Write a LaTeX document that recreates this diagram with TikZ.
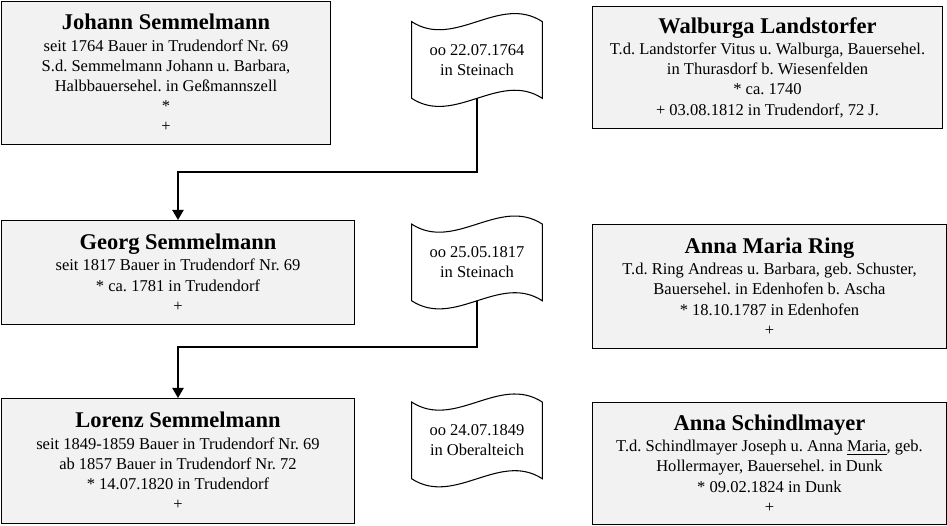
\documentclass[tikz,border=0pt]{standalone}
\usepackage{fontspec}
\setmainfont{Liberation Serif}
\usepackage{xcolor}
\definecolor{boxfill}{HTML}{F2F2F2}
\usepackage{tikz}
\usetikzlibrary{arrows.meta}
\usetikzlibrary{positioning}
\frenchspacing
\newcommand{\bodyfont}{\fontsize{9.4}{11.5}\selectfont}
\newcommand{\namefont}{\fontsize{12.8}{13}\selectfont\bfseries}
\tikzstyle{person} = [rectangle, draw, fill=boxfill, line width=0.6pt,
    align=center, font=\bodyfont, inner sep=0pt]
\tikzstyle{wedding} = [rectangle, draw=none, align=center, font=\bodyfont,
    minimum width=2.6cm, minimum height=1.52cm]
\tikzstyle{line} = [draw, line width=1.1pt, -{Triangle[width=6.4pt,length=5.8pt]}]
\newcommand{\tape}[1]{\draw[line width=0.6pt] (#1.north west) .. controls +(43,28) and +(-43,-28) .. (#1.north east)
    -- (#1.south east) .. controls +(-43,-28) and +(43,28) .. (#1.south west) -- cycle;}

\begin{document}
\begin{tikzpicture}[x=0.02cm,y=-0.02cm]
    \useasboundingbox (0,0) rectangle (947,526);
    % Place nodes
    \node [person, anchor=north west, minimum width=6.58cm, minimum height=2.86cm] (johann) at (1,1)
        {{\namefont Johann Semmelmann}\\[0.7pt] seit 1764 Bauer in Trudendorf Nr. 69\\ S.d. Semmelmann Johann u. Barbara,\\ Halbbauersehel. in Geßmannszell\\ *\\ +};
    \node [person, below=1.5cm of johann.south west, anchor=north west, minimum width=7.06cm, minimum height=2.08cm] (georg)
        {{\namefont Georg Semmelmann}\\[0.7pt] seit 1817 Bauer in Trudendorf Nr. 69\\ * ca. 1781 in Trudendorf\\ +};
    \node [person, below=1.46cm of georg.south west, anchor=north west, minimum width=7.06cm, minimum height=2.5cm] (lorenz)
        {{\namefont Lorenz Semmelmann}\\[0.7pt] seit 1849-1859 Bauer in Trudendorf Nr. 69\\ ab 1857 Bauer in Trudendorf Nr. 72\\ * 14.07.1820 in Trudendorf\\ +};

    \node [person, anchor=north west, minimum width=7cm, minimum height=2.44cm] (walburga) at (592,6)
        {{\namefont Walburga Landstorfer}\\[0.7pt] T.d. Landstorfer Vitus u. Walburga, Bauersehel.\\ in Thurasdorf b. Wiesenfelden\\ * ca. 1740\\ + 03.08.1812 in Trudendorf, 72 J.};
    \node [person, below=1.9cm of walburga.south west, anchor=north west, minimum width=7.08cm, minimum height=2.48cm] (ring)
        {{\namefont Anna Maria Ring}\\[0.7pt] T.d. Ring Andreas u. Barbara, geb. Schuster,\\ Bauersehel. in Edenhofen b. Ascha\\ * 18.10.1787 in Edenhofen\\ +};
    \node [person, below=1.06cm of ring.south west, anchor=north west, minimum width=7.08cm, minimum height=2.44cm] (schindlmayer)
        {{\namefont Anna Schindlmayer}\\[0.7pt] T.d. Schindlmayer Joseph u. Anna \underline{Maria}, geb.\\ Hollermayer, Bauersehel. in Dunk\\ * 09.02.1824 in Dunk\\ +};

    \node [wedding] (wed1) at (477,60) {oo 22.07.1764\\ in Steinach};
    \node [wedding, below of=wed1, node distance=4.05cm] (wed2) {oo 25.05.1817\\ in Steinach};
    \node [wedding, below of=wed2, node distance=3.56cm] (wed3) {oo 24.07.1849\\ in Oberalteich};
    \tape{wed1}
    \tape{wed2}
    \tape{wed3}

    % Draw edges
    \path [line] (wed1.south) -- ++(0,74) -| (georg.north);
    \path [line] (wed2.south) -- ++(0,46) -| (lorenz.north);
\end{tikzpicture}
\end{document}
